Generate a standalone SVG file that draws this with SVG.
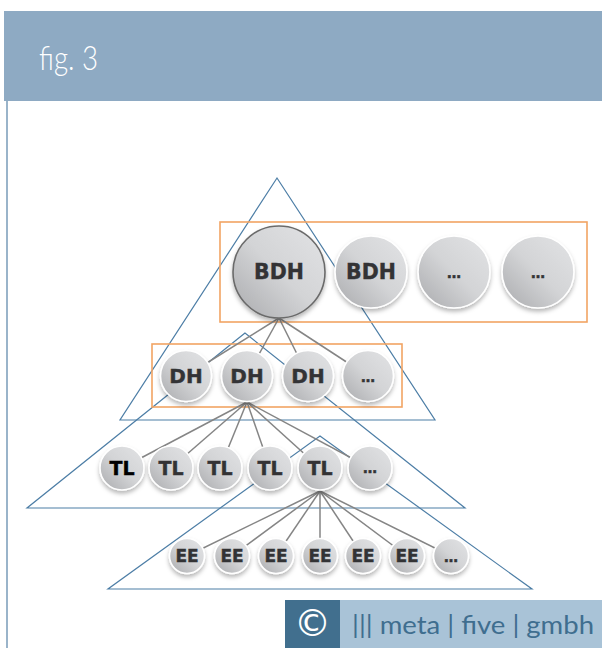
<svg xmlns="http://www.w3.org/2000/svg" width="602" height="648" viewBox="0 0 602 648">
  <defs>
    <linearGradient id="ball" x1="1" y1="0" x2="0" y2="1">
      <stop offset="0" stop-color="#e2e3e5"/>
      <stop offset="0.5" stop-color="#d3d4d6"/>
      <stop offset="1" stop-color="#a9aaad"/>
    </linearGradient>
    <filter id="shadow" x="-30%" y="-30%" width="160%" height="170%">
      <feDropShadow dx="0" dy="3" stdDeviation="2.2" flood-color="#000" flood-opacity="0.28"/>
    </filter>
    <style>
      .tri { fill: none; stroke: #4d7ea6; stroke-width: 1.2; }
      .box { fill: none; stroke: #f2a463; stroke-width: 1.6; }
      .link { stroke: #858585; stroke-width: 1.5; fill: none; }
      .node circle { fill: url(#ball); stroke: #ffffff; stroke-width: 1.6; filter: url(#shadow); }
      .node circle.main { stroke: #6b6b6b; stroke-width: 1.6; }
      .node text { font-family: "DejaVu Sans", "Liberation Sans", sans-serif; font-weight: bold; fill: #333335; text-anchor: middle; stroke: #333335; stroke-width: 0.4; }
      .l1 text { font-size: 20.5px; }
      .l2 text { font-size: 20px; }
      .l3 text { font-size: 19px; }
      .l4 text { font-size: 17px; }
      .node text.dots { font-size: 14px; }
      .node text.black { fill: #000; stroke: #000; }
    </style>
  </defs>

  <rect x="0" y="0" width="602" height="648" fill="#ffffff"/>

  <!-- header band -->
  <rect x="4" y="11" width="598" height="90" fill="#8eaac3"/>
  <text x="39" y="70" font-family="Lato, 'Open Sans', 'Liberation Sans', sans-serif" font-weight="300" font-size="33" fill="#ffffff" textLength="59" lengthAdjust="spacingAndGlyphs">fig. 3</text>
  <rect x="6" y="101" width="2" height="547" fill="#9ab4ca"/>

  <!-- hierarchy triangles -->
  <g id="triangles">
    <polygon class="tri" points="277,178 120,420 435,420"/>
    <polygon class="tri" points="245,333 27,508 465,508"/>
    <polygon class="tri" points="320,436 108,589 532,589"/>
  </g>

  <!-- grouping boxes -->
  <g id="boxes">
    <rect class="box" x="220" y="222" width="367" height="100"/>
    <rect class="box" x="152" y="344" width="250" height="63"/>
  </g>

  <!-- connectors -->
  <g id="connectors">
    <line class="link" x1="279" y1="318" x2="186" y2="376"/>
    <line class="link" x1="279" y1="318" x2="247" y2="376"/>
    <line class="link" x1="279" y1="318" x2="308" y2="376"/>
    <line class="link" x1="279" y1="318" x2="368" y2="376"/>

    <line class="link" x1="247" y1="402" x2="122" y2="468"/>
    <line class="link" x1="247" y1="402" x2="171" y2="468"/>
    <line class="link" x1="247" y1="402" x2="220" y2="468"/>
    <line class="link" x1="247" y1="402" x2="270" y2="468"/>
    <line class="link" x1="247" y1="402" x2="320" y2="468"/>
    <line class="link" x1="247" y1="402" x2="370" y2="468"/>

    <line class="link" x1="320" y1="491" x2="187" y2="556"/>
    <line class="link" x1="320" y1="491" x2="232" y2="556"/>
    <line class="link" x1="320" y1="491" x2="276" y2="556"/>
    <line class="link" x1="320" y1="491" x2="320" y2="556"/>
    <line class="link" x1="320" y1="491" x2="363" y2="556"/>
    <line class="link" x1="320" y1="491" x2="407" y2="556"/>
    <line class="link" x1="320" y1="491" x2="451" y2="556"/>
  </g>

  <!-- level 1 -->
  <g id="bdh-main" class="node l1"><circle class="main" cx="279" cy="272" r="46"/><text x="279" y="279">BDH</text></g>
  <g id="bdh-2" class="node l1"><circle cx="371" cy="272" r="36"/><text x="371" y="279">BDH</text></g>
  <g id="bdh-3" class="node l1"><circle cx="454" cy="272" r="36"/><text class="dots" x="454" y="278">…</text></g>
  <g id="bdh-4" class="node l1"><circle cx="538" cy="272" r="36"/><text class="dots" x="538" y="278">…</text></g>

  <!-- level 2 -->
  <g id="dh-1" class="node l2"><circle cx="186" cy="376" r="25.5"/><text x="186" y="383">DH</text></g>
  <g id="dh-2" class="node l2"><circle cx="247" cy="376" r="25.5"/><text x="247" y="383">DH</text></g>
  <g id="dh-3" class="node l2"><circle cx="308" cy="376" r="25.5"/><text x="308" y="383">DH</text></g>
  <g id="dh-4" class="node l2"><circle cx="368" cy="376" r="25.5"/><text class="dots" x="368" y="382">…</text></g>

  <!-- level 3 -->
  <g id="tl-1" class="node l3"><circle cx="122" cy="468" r="22"/><text class="black" x="122" y="475">TL</text></g>
  <g id="tl-2" class="node l3"><circle cx="171" cy="468" r="22"/><text x="171" y="475">TL</text></g>
  <g id="tl-3" class="node l3"><circle cx="220" cy="468" r="22"/><text x="220" y="475">TL</text></g>
  <g id="tl-4" class="node l3"><circle cx="270" cy="468" r="22"/><text x="270" y="475">TL</text></g>
  <g id="tl-5" class="node l3"><circle cx="320" cy="468" r="22"/><text x="320" y="475">TL</text></g>
  <g id="tl-6" class="node l3"><circle cx="370" cy="468" r="22"/><text class="dots" x="370" y="473">…</text></g>

  <!-- level 4 -->
  <g id="ee-1" class="node l4"><circle cx="187" cy="556" r="17.5"/><text x="187" y="562">EE</text></g>
  <g id="ee-2" class="node l4"><circle cx="232" cy="556" r="17.5"/><text x="232" y="562">EE</text></g>
  <g id="ee-3" class="node l4"><circle cx="276" cy="556" r="17.5"/><text x="276" y="562">EE</text></g>
  <g id="ee-4" class="node l4"><circle cx="320" cy="556" r="17.5"/><text x="320" y="562">EE</text></g>
  <g id="ee-5" class="node l4"><circle cx="363" cy="556" r="17.5"/><text x="363" y="562">EE</text></g>
  <g id="ee-6" class="node l4"><circle cx="407" cy="556" r="17.5"/><text x="407" y="562">EE</text></g>
  <g id="ee-7" class="node l4"><circle cx="451" cy="556" r="17.5"/><text class="dots" x="451" y="562">…</text></g>

  <!-- footer -->
  <g id="footer">
    <rect x="285" y="600" width="55" height="48" fill="#416f8e"/>
    <rect x="340" y="600" width="262" height="48" fill="#a9c3d7"/>
    <text x="312.5" y="636" font-family="'DejaVu Sans', sans-serif" font-size="37" fill="#ffffff" text-anchor="middle">©</text>
    <text x="352" y="634" font-family="Lato, 'Liberation Sans', sans-serif" font-size="25" fill="#3f6e8f" textLength="242" lengthAdjust="spacingAndGlyphs">||| meta | five | gmbh</text>
  </g>
</svg>
